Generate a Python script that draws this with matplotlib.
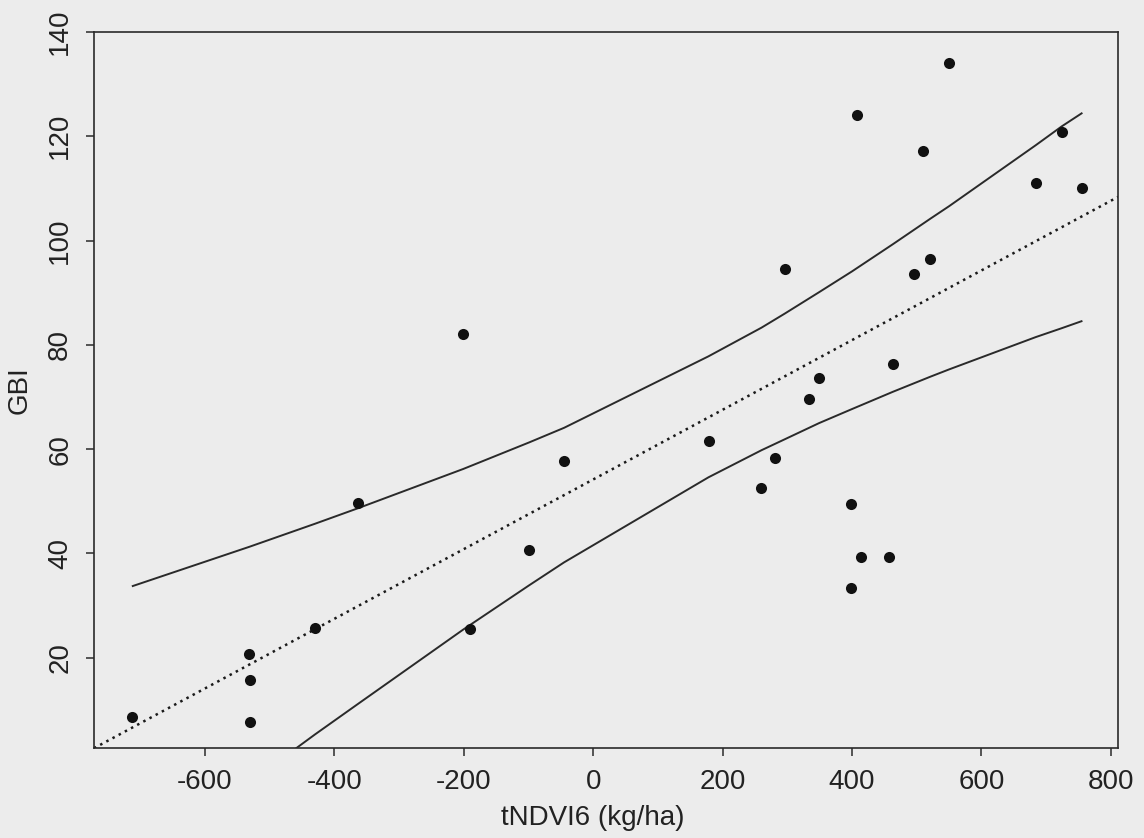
import matplotlib
matplotlib.use("Agg")
import matplotlib.pyplot as plt

# ---- data ----
tndvi = [-713, -531.5, -530.5, -530.5, -430, -363, -200.8, -190, -98.8, -44.8,
         178.4, 259.7, 281.3, 296.3, 333.4, 349.3, 398.3, 397.8, 413.8, 456.6,
         462.7, 408, 510, 495.2, 520.8, 549.7, 683.7, 723.9, 755.7]
gbi = [8.7, 20.8, 15.8, 7.7, 25.8, 49.7, 82.0, 25.6, 40.6, 57.7,
       61.6, 52.5, 58.4, 94.6, 69.6, 73.7, 49.4, 33.4, 39.3, 39.3,
       76.4, 124.1, 117.1, 93.5, 96.4, 134.0, 111.1, 120.9, 110.0]

# fitted line (dotted)
fit_intercept = 54.2
fit_slope = 0.0668

# band curves (solid), sampled at data x positions
band_x = [-713, -531, -430, -363, -201, -99, -45, 178, 260, 296, 349, 400,
          463, 521, 550, 684, 724, 756]
band_upper = [33.7, 41.3, 45.7, 48.7, 56.2, 61.3, 64.1, 77.8, 83.3, 86.0, 90.1,
              94.1, 99.3, 104.2, 106.6, 118.3, 121.9, 124.5]
band_lower = [-20.5, -3.9, 5.3, 11.2, 25.4, 33.9, 38.3, 54.6, 59.8, 61.9, 65.0,
              67.7, 71.0, 73.9, 75.3, 81.5, 83.2, 84.6]

x_ticks = [-600, -400, -200, 0, 200, 400, 600, 800]
y_ticks = [20, 40, 60, 80, 100, 120, 140]
x_label = "tNDVI6 (kg/ha)"
y_label = "GBI"

# ---- style ----
plt.rcParams['font.family'] = ['Liberation Sans', 'DejaVu Sans']
bg = '#ececec'
ink = '#2a2a2a'

fig = plt.figure(figsize=(11.44, 8.38), dpi=100, facecolor=bg)
ax = fig.add_axes([94/1144, 1 - 748/838, (1118-94)/1144, (748-32)/838])
ax.set_facecolor(bg)

xlim = (-771.5, 811.0)
ylim = (2.7, 140.0)
ax.set_xlim(*xlim)
ax.set_ylim(*ylim)

ax.plot(band_x, band_upper, color=ink, lw=1.4, solid_capstyle='butt', clip_on=True)
ax.plot(band_x, band_lower, color=ink, lw=1.4, solid_capstyle='butt', clip_on=True)
ax.plot(xlim, [fit_intercept + fit_slope * xlim[0], fit_intercept + fit_slope * xlim[1]],
        color='#1a1a1a', lw=1.8, linestyle=(0, (1, 1.8)))
ax.scatter(tndvi, gbi, s=64, color='#111111', zorder=3, linewidths=0)

for s in ax.spines.values():
    s.set_color(ink)
    s.set_linewidth(1.2)

ax.set_xticks(x_ticks)
ax.set_yticks(y_ticks)
ax.set_xticklabels([str(v) for v in x_ticks])
ax.set_yticklabels([str(v) for v in y_ticks], rotation=90, va='center')
ax.tick_params(axis='both', direction='out', length=6, width=1.1, color=ink,
               labelcolor='#222222', labelsize=20)
ax.tick_params(axis='x', pad=9)
ax.tick_params(axis='y', pad=9)

ax.set_xlabel(x_label, fontsize=20, color='#222222')
ax.set_ylabel(y_label, fontsize=20, color='#222222')
ax.xaxis.set_label_coords((593 - 94) / 1024, -(818 - 748) / 716)
ax.yaxis.set_label_coords(-(94 - 20) / 1024, (748 - 390) / 716)
ax.xaxis.label.set_va('center')
ax.yaxis.label.set_va('center')

fig.savefig("out.png", dpi=100, facecolor=bg)
